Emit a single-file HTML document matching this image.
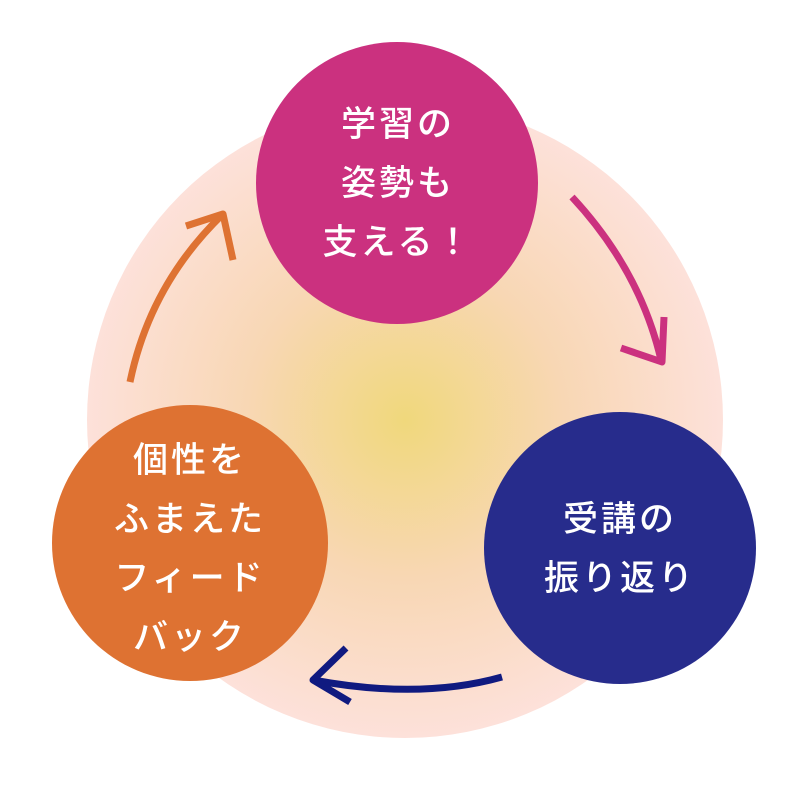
<!DOCTYPE html>
<html><head><meta charset="utf-8"><style>
html,body{margin:0;padding:0;background:#fff;}
body{width:810px;height:810px;position:relative;overflow:hidden;font-family:"Liberation Sans","Noto Sans CJK JP",sans-serif;}
.t{position:absolute;color:#fff;font-size:35px;line-height:59px;text-align:center;letter-spacing:3px;font-weight:500;}
</style></head><body>
<svg width="810" height="810" style="position:absolute;left:0;top:0">
<defs><radialGradient id="g" cx="0.5" cy="0.5" r="0.5">
<stop offset="0" stop-color="#f0d87c"/><stop offset="0.5" stop-color="#f8d7b4"/><stop offset="1" stop-color="#fde1da"/></radialGradient></defs>
<circle cx="405" cy="420" r="318" fill="url(#g)"/>
<circle cx="397" cy="183" r="141" fill="#cb317f"/>
<circle cx="620" cy="548" r="136" fill="#272c8c"/>
<circle cx="190" cy="543" r="138" fill="#de7232"/>
<g fill="none" stroke-width="7" stroke-linecap="butt" stroke-linejoin="round">
<path d="M572 197 Q640 270 661 360" stroke="#cb317f"/>
<path d="M664 317 L662 362 L621 348" stroke="#cb317f"/>
<path d="M502 677 Q420 700 313 680" stroke="#101a80"/>
<path d="M346 648 L313 680 L350 702" stroke="#101a80"/>
<path d="M130 382 Q150 285 222 215" stroke="#de7232"/>
<path d="M186 226 L223 214 L233 260" stroke="#de7232"/>
</g>
</svg>
<div class="t" style="left:257px;width:282px;top:95px;">学習の<br>姿勢も<br>支える！</div>
<div class="t" style="left:484px;width:272px;top:490px;">受講の<br>振り返り</div>
<div class="t" style="left:52px;width:276px;top:431px;">個性を<br>ふまえた<br>フィード<br>バック</div>
</body></html>
